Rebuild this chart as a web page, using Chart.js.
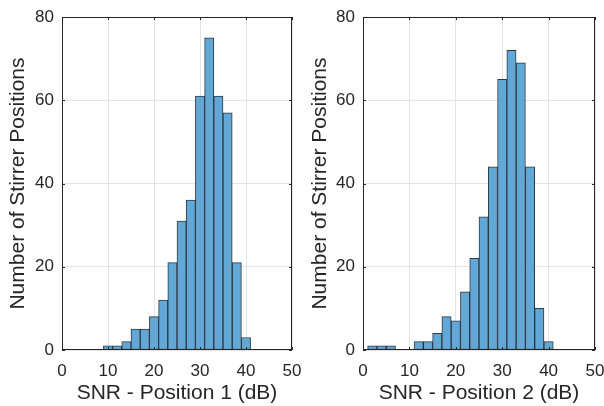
<!DOCTYPE html>
<html>
<head>
<meta charset="utf-8">
<script src="https://cdn.jsdelivr.net/npm/chart.js@4/dist/chart.umd.min.js"></script>
<style>
  body { margin: 0; background: #fff; overflow: hidden; }
  #wrap { position: relative; width: 604px; height: 406px; overflow: hidden; }
  canvas { position: absolute; top: 0; }
</style>
</head>
<body>
<div id="wrap">
  <canvas id="left" width="310" height="406" style="left:0"></canvas>
  <canvas id="right" width="310" height="406" style="left:302px"></canvas>
</div>
<script>
/* Histogram data: bin centres (dB, 2 dB wide bins) and counts */
const binCenters1 = [10, 12, 14, 16, 18, 20, 22, 24, 26, 28, 30, 32, 34, 36, 38, 40];
const counts1 = [1, 1, 2, 5, 5, 8, 12, 21, 31, 36, 61, 75, 61, 57, 21, 3];

const binCenters2 = [2, 4, 6, 8, 10, 12, 14, 16, 18, 20, 22, 24, 26, 28, 30, 32, 34, 36, 38, 40];
const counts2 = [1, 1, 1, 0, 0, 2, 2, 4, 8, 7, 14, 22, 32, 44, 65, 72, 69, 44, 10, 2];

const xTicks = [0, 10, 20, 30, 40, 50];
const yTicks = [0, 20, 40, 60, 80];
const yTitle = "Number of Stirrer Positions";
const xTitle1 = "SNR - Position 1 (dB)";
const xTitle2 = "SNR - Position 2 (dB)";

const axisColor = "#262626";
const fontFamily = "'Liberation Sans', Arial, Helvetica, sans-serif";

/* Draw the box around the plot area plus inward tick marks (matlab style) */
const boxPlugin = {
  id: "box",
  afterDraw(chart) {
    const { ctx, chartArea: a, scales } = chart;
    ctx.save();
    ctx.strokeStyle = axisColor;
    ctx.lineWidth = 1;
    ctx.strokeRect(a.left + 0.5, a.top + 0.5, a.right - a.left - 1, a.bottom - a.top - 1);
    const len = 3;
    ctx.beginPath();
    xTicks.forEach((v) => {
      const px = Math.round(scales.x.getPixelForValue(v)) + 0.5;
      ctx.moveTo(px, a.bottom);
      ctx.lineTo(px, a.bottom - len);
      ctx.moveTo(px, a.top);
      ctx.lineTo(px, a.top + len);
    });
    yTicks.forEach((v) => {
      const py = Math.round(scales.y.getPixelForValue(v)) + 0.5;
      ctx.moveTo(a.left, py);
      ctx.lineTo(a.left + len, py);
      ctx.moveTo(a.right, py);
      ctx.lineTo(a.right - len, py);
    });
    ctx.stroke();
    ctx.restore();
  },
};

function makeHist(id, centers, counts, xTitle, yWidth, padRight) {
  const points = centers.map((c, i) => ({ x: c, y: counts[i] }));
  return new Chart(document.getElementById(id), {
    type: "bar",
    data: {
      datasets: [
        {
          data: points,
          backgroundColor: "rgb(98, 168, 215)",
          borderColor: "rgba(25, 35, 45, 0.9)",
          borderWidth: 1,
          borderSkipped: false,
          barPercentage: 1.0,
          categoryPercentage: 1.0,
        },
      ],
    },
    options: {
      responsive: false,
      animation: false,
      layout: { padding: { top: 17, right: padRight, left: 0, bottom: 0 } },
      plugins: {
        legend: { display: false },
        tooltip: { enabled: false },
      },
      scales: {
        x: {
          type: "linear",
          min: 0,
          max: 50,
          offset: false,
          afterFit: (s) => {
            s.height = 56;
            s.paddingLeft = 0;
            s.paddingRight = 0;
          },
          grid: { offset: false, color: "#e4e4e4", drawTicks: false },
          border: { display: false },
          ticks: {
            stepSize: 10,
            padding: 11,
            color: axisColor,
            font: { family: fontFamily, size: 17 },
            maxRotation: 0,
          },
          title: {
            display: true,
            text: xTitle,
            color: axisColor,
            font: { family: fontFamily, size: 21 },
            padding: { top: 0, bottom: 0 },
          },
        },
        y: {
          min: 0,
          max: 80,
          afterFit: (s) => {
            s.width = yWidth;
            s.paddingTop = 0;
            s.paddingBottom = 0;
          },
          grid: { color: "#e4e4e4", drawTicks: false },
          border: { display: false },
          ticks: {
            stepSize: 20,
            padding: 8,
            color: axisColor,
            font: { family: fontFamily, size: 17 },
          },
          title: {
            display: true,
            text: yTitle,
            color: axisColor,
            font: { family: fontFamily, size: 21 },
            padding: { top: 6, bottom: 0 },
          },
        },
      },
    },
    plugins: [boxPlugin],
  });
}

makeHist("left", binCenters1, counts1, xTitle1, 62, 18);
makeHist("right", binCenters2, counts2, xTitle2, 61, 17);
</script>
</body>
</html>
